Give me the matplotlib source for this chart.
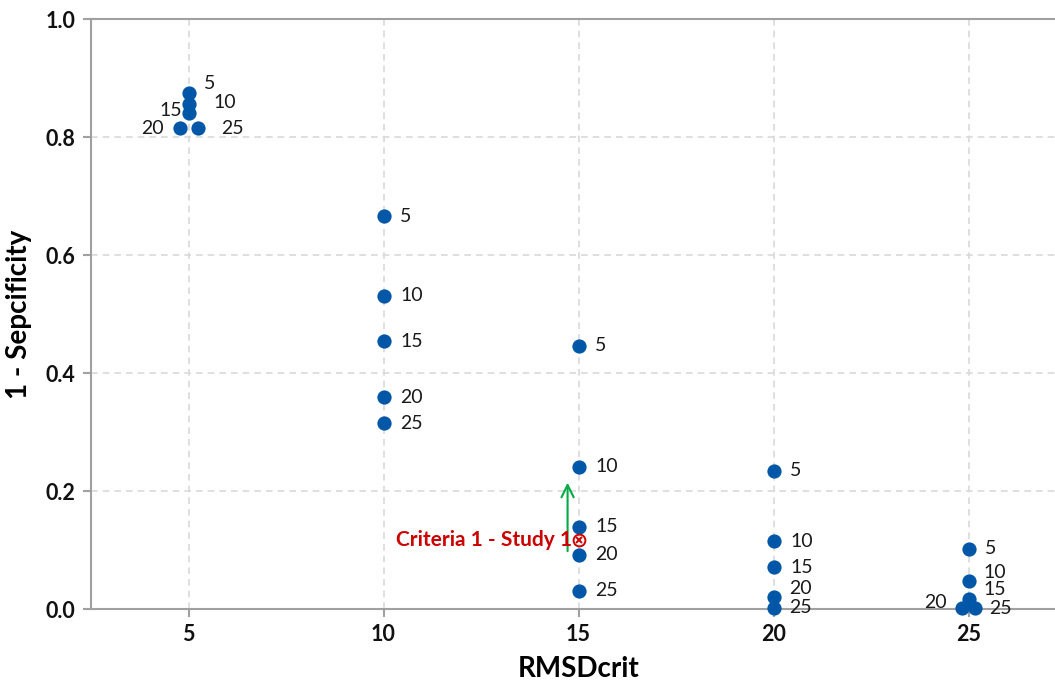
import matplotlib.pyplot as plt
from matplotlib.transforms import offset_copy

plt.rcParams['font.family'] = ['Lato', 'Open Sans', 'DejaVu Sans']

# RMSDcrit group on the x axis, second criterion as the point label
rmsd_crit = [5, 10, 15, 20, 25]
labels = [5, 10, 15, 20, 25]

one_minus_spec = {
    5:  [0.875, 0.856, 0.840, 0.815, 0.815],
    10: [0.666, 0.531, 0.454, 0.359, 0.315],
    15: [0.446, 0.241, 0.139, 0.092, 0.031],
    20: [0.234, 0.115, 0.071, 0.020, 0.002],
    25: [0.102, 0.047, 0.017, 0.001, 0.001],
}

criteria_x = 15
criteria_y = 0.117
arrow_x = 14.72
arrow_from = 0.098
arrow_to = 0.214

DOT = '#0057a8'
GRID = '#d9d9d9'
AXIS = '#a0a0a0'
RED = '#cc0000'

# small nudges (points) so overlapping dots and labels stay readable
dot_shift = {(5, 20): -5.8, (5, 25): 6.5, (25, 20): -5.0, (25, 25): 5.0}
label_pos = {
    (5, 5): (11, 7), (5, 10): (18, 1), (5, 15): (-21, 2), (5, 20): (-28, 0),
    (5, 25): (17, 0),
    (20, 20): (11, 6), (20, 25): (11, 0),
    (25, 10): (11, 6), (25, 15): (11, 7), (25, 20): (-27, 4), (25, 25): (10, 0),
}

fig = plt.figure(figsize=(10.55, 6.81), dpi=100)
ax = fig.add_axes([91 / 1055, 72 / 681, 975 / 1055, 590 / 681])

for g in rmsd_crit:
    for lab, val in zip(labels, one_minus_spec[g]):
        dx = dot_shift.get((g, lab), 0)
        tr = offset_copy(ax.transData, fig=fig, x=dx, y=0, units='points')
        ax.scatter([g], [val], s=105, color=DOT, zorder=3, transform=tr,
                   clip_on=False, linewidths=0)
        ox, oy = label_pos.get((g, lab), (12, 0))
        ax.annotate(str(lab), (g, val), xytext=(ox + dx, oy),
                    textcoords='offset points', ha='left', va='center',
                    fontsize=14, color='#1a1a1a', zorder=4)

# reference point for study 1
ax.plot([criteria_x], [criteria_y], marker='o', markersize=8.5,
        markerfacecolor='none', markeredgecolor=RED, markeredgewidth=1.4,
        linestyle='none', zorder=5)
ax.plot([criteria_x], [criteria_y], marker='x', markersize=5,
        color=RED, markeredgewidth=1.4, linestyle='none', zorder=5)
ax.annotate('Criteria 1 - Study 1', (criteria_x, criteria_y), xytext=(-5, 0),
            textcoords='offset points', ha='right', va='center',
            fontsize=15, fontweight='bold', color=RED, zorder=5)
ax.annotate('', xy=(arrow_x, arrow_to), xytext=(arrow_x, arrow_from),
            arrowprops=dict(arrowstyle='->', color='#00aa44', lw=1.5,
                            mutation_scale=22, shrinkA=0, shrinkB=0),
            zorder=4)

ax.set_xlim(2.5, 27.5)
ax.set_ylim(0, 1.0)
ax.set_xticks(rmsd_crit)
ax.set_yticks([0.0, 0.2, 0.4, 0.6, 0.8, 1.0])
ax.set_yticklabels(['0.0', '0.2', '0.4', '0.6', '0.8', '1.0'])
ax.grid(True, color=GRID, linestyle=(0, (4, 3)), linewidth=1.2, zorder=0)
ax.set_axisbelow(True)

for side in ['left', 'bottom', 'top']:
    ax.spines[side].set_color(AXIS)
    ax.spines[side].set_linewidth(1.5)
ax.spines['right'].set_visible(False)
ax.tick_params(axis='both', colors=AXIS, length=6, width=1.5, labelsize=15.5,
               labelcolor='#111111', pad=5)
for t in ax.get_xticklabels() + ax.get_yticklabels():
    t.set_fontweight('bold')

ax.set_xlabel('RMSDcrit', fontsize=20, fontweight='bold', labelpad=8)
ax.set_ylabel('1 - Sepcificity', fontsize=20, fontweight='bold', labelpad=10)

fig.savefig('out.png', dpi=100)
